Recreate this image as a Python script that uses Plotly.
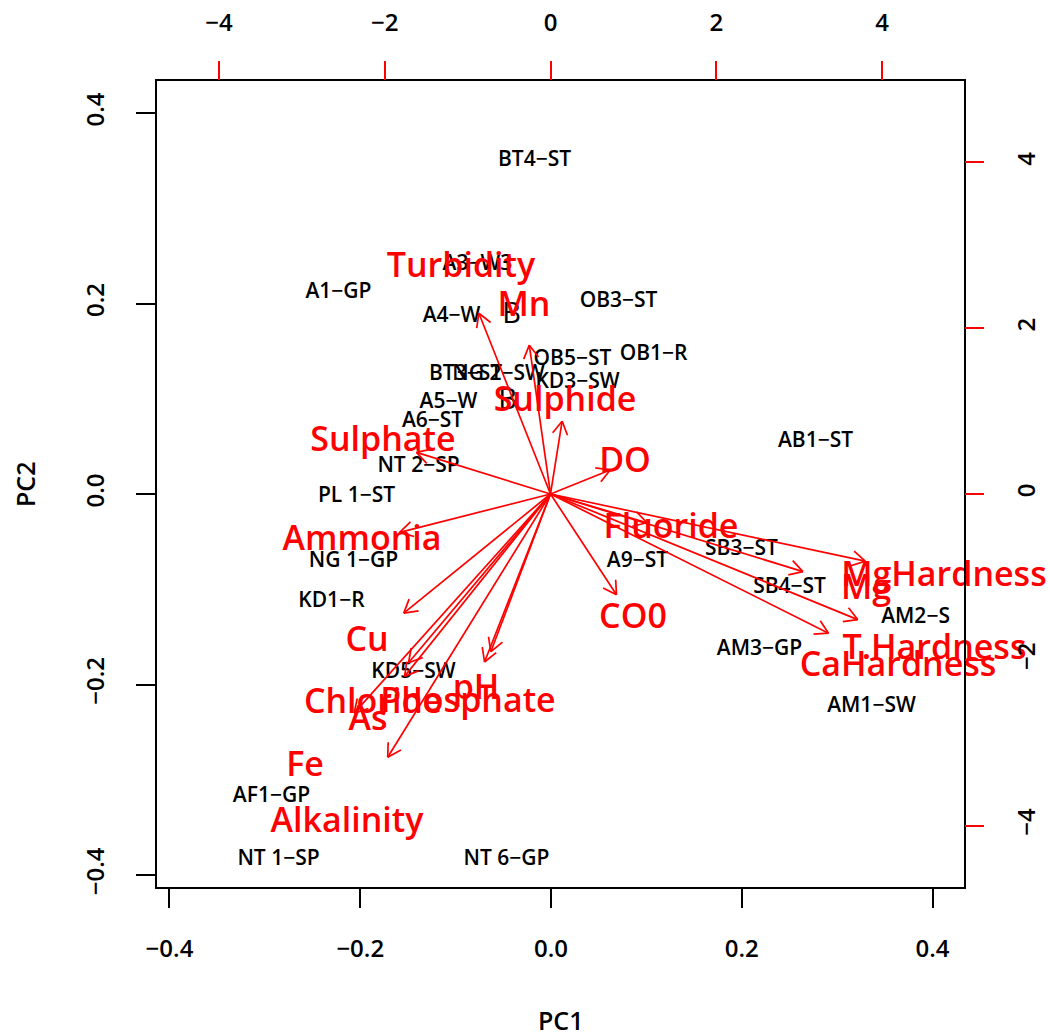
import math
import plotly.graph_objects as go

# Site scores on the first two principal components
site_labels = ["BT4−ST", "A1−GP", "A3−W3", "A4−W", "OB3−ST", "BT3−ST", "NG 2−SW",
               "OB5−ST", "OB1−R", "KD3−SW", "A5−W", "A6−ST", "NT 2−SP", "PL 1−ST",
               "NG 1−GP", "KD1−R", "KD5−SW", "AF1−GP", "NT 1−SP", "NT 6−GP",
               "AB1−ST", "A9−ST", "SB3−ST", "SB4−ST", "AM2−S", "AM3−GP", "AM1−SW"]
site_pc1 = [-0.0173, -0.2229, -0.0771, -0.1043, 0.0708, -0.0896, -0.0550,
            0.0225, 0.1075, 0.0278, -0.1075, -0.1242, -0.1389, -0.2039,
            -0.2071, -0.2302, -0.1442, -0.2931, -0.2857, -0.0467,
            0.2773, 0.0907, 0.1997, 0.2501, 0.3822, 0.2186, 0.3360]
site_pc2 = [0.3496, 0.2110, 0.2404, 0.1858, 0.2016, 0.1249, 0.1249,
            0.1407, 0.1459, 0.1165, 0.0955, 0.0756, 0.0283, -0.0031,
            -0.0714, -0.1134, -0.1879, -0.3181, -0.3843, -0.3843,
            0.0546, -0.0714, -0.0588, -0.0987, -0.1302, -0.1638, -0.2236]

# Sites with single-letter codes
letter_labels = ["B", "B"]
letter_pc1 = [-0.0414, -0.0456]
letter_pc2 = [0.1869, 0.0966]

# Variable loadings (label positions; arrows drawn to 0.8 of these)
var_labels = ["Turbidity", "Mn", "Sulphide", "Sulphate", "DO", "Ammonia", "Fluoride",
              "CO0", "Cu", "Chloride", "As", "Phosphate", "pH", "Fe", "Alkalinity",
              "MgHardness", "Mg", "T.Hardness", "CaHardness"]
var_pc1 = [-1.080, -0.320, 0.175, -2.021, 0.899, -2.274, 1.454,
           0.995, -2.213, -2.141, -2.201, -0.995, -0.899, -2.961, -2.455,
           4.746, 3.806, 4.632, 4.192]
var_pc2 = [2.726, 2.244, 1.098, 0.627, 0.362, -0.579, -0.434,
           -1.520, -1.797, -2.545, -2.750, -2.533, -2.376, -3.305, -3.969,
           -1.013, -1.170, -1.894, -2.099]
ARROW_FRACTION = 0.8

score_ticks = [-0.4, -0.2, 0.0, 0.2, 0.4]
loading_ticks = [-4, -2, 0, 2, 4]

# Axis limits for scores (bottom/left) and loadings (top/right)
X1_RANGE = [-0.4131, 0.4330]
Y1_RANGE = [-0.4126, 0.4336]
X2_RANGE = [-4.747, 4.988]
Y2_RANGE = [-4.741, 4.982]

W, H = 1049, 1036
M = dict(l=157, r=85, t=81, b=149)
plot_w = W - M["l"] - M["r"]
plot_h = H - M["t"] - M["b"]

RED = "#FF0000"
LABEL_FONT = "Open Sans, Lato, sans-serif"

# Arrow shafts and open heads (heads built in pixel space, then mapped back)
ppu_x = plot_w / (X2_RANGE[1] - X2_RANGE[0])
ppu_y = plot_h / (Y2_RANGE[1] - Y2_RANGE[0])
head_len = 15.0
head_ang = math.radians(30)
ax_x, ax_y = [], []
for lx, ly in zip(var_pc1, var_pc2):
    tx, ty = lx * ARROW_FRACTION, ly * ARROW_FRACTION
    ax_x += [0, tx, None]
    ax_y += [0, ty, None]
    ang = math.atan2(ty * ppu_y, tx * ppu_x)
    for s in (1, -1):
        a = ang + math.pi + s * head_ang
        bx = tx + head_len * math.cos(a) / ppu_x
        by = ty + head_len * math.sin(a) / ppu_y
        ax_x += [tx, bx, None]
        ax_y += [ty, by, None]

fig = go.Figure()

fig.add_trace(go.Scatter(
    x=site_pc1, y=site_pc2, text=site_labels, mode="text",
    textposition="middle center",
    textfont=dict(family=LABEL_FONT, size=21, color="black", weight=600),
    cliponaxis=False, hoverinfo="text", xaxis="x", yaxis="y"))

fig.add_trace(go.Scatter(
    x=letter_pc1, y=letter_pc2, text=letter_labels, mode="text",
    textposition="middle center",
    textfont=dict(family=LABEL_FONT, size=29, color="black"),
    cliponaxis=False, hoverinfo="text", xaxis="x", yaxis="y"))

fig.add_trace(go.Scatter(
    x=ax_x, y=ax_y, mode="lines",
    line=dict(color=RED, width=1.7),
    hoverinfo="skip", cliponaxis=False, xaxis="x2", yaxis="y2"))

fig.add_trace(go.Scatter(
    x=var_pc1, y=var_pc2, text=var_labels, mode="text",
    textposition="middle center",
    textfont=dict(family=LABEL_FONT, size=34, color=RED, weight=600),
    cliponaxis=False, hoverinfo="text", xaxis="x2", yaxis="y2"))

tick_font = dict(family=LABEL_FONT, size=24, color="black", weight=600)
title_font = dict(family=LABEL_FONT, size=25, color="black", weight=600)

fig.update_layout(
    width=W, height=H, margin=dict(M, autoexpand=False),
    paper_bgcolor="white", plot_bgcolor="white",
    showlegend=False,
    xaxis=dict(range=X1_RANGE, tickvals=score_ticks, tickformat=".1f",
               showgrid=False, zeroline=False, showline=True, mirror=True,
               linecolor="black", linewidth=2, ticks="outside", ticklen=19,
               tickwidth=2, tickcolor="black", tickfont=tick_font,
               ticklabelstandoff=20, automargin=False),
    yaxis=dict(range=Y1_RANGE, tickvals=score_ticks, tickformat=".1f",
               showgrid=False, zeroline=False, showline=True, mirror=True,
               linecolor="black", linewidth=2, ticks="outside", ticklen=19,
               tickwidth=2, tickcolor="black", tickfont=tick_font,
               tickangle=-90, ticklabelstandoff=22, automargin=False),
    xaxis2=dict(range=X2_RANGE, tickvals=loading_ticks, overlaying="x",
                side="top", anchor="y", showgrid=False, zeroline=False,
                showline=False, ticks="outside", ticklen=19, tickwidth=1.5,
                tickcolor=RED, tickfont=tick_font, ticklabelstandoff=20,
                automargin=False),
    yaxis2=dict(range=Y2_RANGE, tickvals=loading_ticks, overlaying="y",
                side="right", anchor="x", showgrid=False, zeroline=False,
                showline=False, ticks="outside", ticklen=19, tickwidth=1.5,
                tickcolor=RED, tickfont=tick_font, tickangle=-90,
                ticklabelstandoff=22, automargin=False),
    annotations=[
        dict(text="PC1", xref="paper", yref="paper", x=0.5,
             y=-(1020 - (H - M["b"])) / plot_h,
             showarrow=False, xanchor="center", yanchor="middle",
             font=title_font),
        dict(text="PC2", xref="paper", yref="paper",
             x=(25 - M["l"]) / plot_w, y=0.5, textangle=-90,
             showarrow=False, xanchor="center", yanchor="middle",
             font=title_font),
    ],
)

fig.write_html("out.html")
